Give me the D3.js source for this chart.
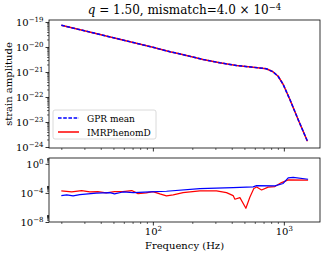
<!DOCTYPE html>
<html>
<head>
<meta charset="utf-8">
<script src="https://cdn.jsdelivr.net/npm/d3@7"></script>
<style>
body { margin: 0; background: #fff; }
text { font-family: "DejaVu Serif", serif; fill: #000; }
</style>
</head>
<body>
<div id="chart"></div>
<script>
// top panel: frequency (Hz) and log10 strain amplitude
const ampFreq = [20, 30, 50, 100, 135, 156, 242, 324, 434, 582, 735, 826, 904, 989, 1112, 1285, 1514];
const ampGPR  = [-19.13, -19.35, -19.63, -20.01, -20.19, -20.26, -20.5, -20.63, -20.74, -20.81, -20.87, -20.99, -21.17, -21.5, -22.1, -22.9, -23.77];
const ampIMR  = [-19.13, -19.35, -19.63, -20.01, -20.19, -20.26, -20.5, -20.63, -20.74, -20.81, -20.87, -20.99, -21.17, -21.5, -22.1, -22.9, -23.77];

// bottom panel: log10 error of each curve
const gprFreq = [20, 22, 24.6, 27.7, 37, 47, 51, 59, 71, 95, 127, 228, 410, 583, 619, 854, 988, 1079, 1178, 1531];
const gprErr  = [-4.37, -4.28, -4.41, -4.23, -4.04, -3.96, -4.14, -3.87, -3.96, -3.86, -3.77, -3.41, -3.27, -3.17, -3.0, -3.03, -2.7, -1.93, -1.87, -2.12];
const imrFreq = [20, 24, 28.6, 33, 38, 44, 51, 59, 69, 77, 89, 100, 113, 127, 143, 170, 228, 306, 365, 410, 423, 462, 513, 550, 590, 620, 676, 759, 854, 960, 1080, 1531];
const imrErr  = [-3.72, -3.86, -3.68, -3.86, -3.82, -4.0, -3.82, -3.82, -3.68, -4.1, -4.0, -3.82, -4.14, -4.41, -4.28, -3.96, -3.72, -3.72, -3.96, -4.37, -4.87, -4.65, -6.11, -4.59, -3.4, -3.2, -3.6, -3.21, -3.13, -2.58, -2.21, -2.25];

const xMajor = [100, 1000];
const ampMajor = [-19, -20, -21, -22, -23, -24];
const errMajor = [0, -4, -8];
const seriesNames = ["GPR mean", "IMRPhenomD"];

width = 328;
height = 258;
margin = ({left: 49, right: 8});
topPanel = ({y0: 20, y1: 148});
botPanel = ({y0: 158, y1: 222});

const blue = "#0000ff", red = "#ff0000";

const svg = d3.select("#chart").append("svg")
    .attr("width", width).attr("height", height);

const x = d3.scaleLog()
    .domain([Math.pow(10, 1.207), Math.pow(10, 3.276)])
    .range([margin.left, width - margin.right]);
const yAmp = d3.scaleLog()
    .domain([Math.pow(10, -24.04), Math.pow(10, -18.92)])
    .range([topPanel.y1, topPanel.y0]);
const yErr = d3.scaleLog()
    .domain([1e-8, Math.pow(10, 0.8)])
    .range([botPanel.y1, botPanel.y0]);

const minus = s => String(s).replace("-", "\u2212");

const supLabel = function(sel, exp) {
    sel.text(null);
    sel.append("tspan").text("10");
    sel.append("tspan").attr("dy", "-0.5em").attr("font-size", "7px").text(minus(exp));
};

const minorX = [];
[10, 100].forEach(b => { for (let k = 2; k <= 9; k++) minorX.push(k * b); });
const minorAmp = [];
for (let n = -24; n <= -19; n++) for (let k = 2; k <= 9; k++) {
    const v = k * Math.pow(10, n);
    if (v < yAmp.domain()[1]) minorAmp.push(v);
}
const minorErr = [];
[-8, -4, 0].forEach(n => { for (let k = 2; k <= 9; k++) {
    const v = k * Math.pow(10, n);
    if (v < yErr.domain()[1]) minorErr.push(v);
}});

const styleAxis = g => {
    g.select(".domain").remove();
    g.selectAll("line").attr("stroke", "#000").attr("stroke-width", 0.8);
    g.selectAll("text").attr("font-size", 10).attr("fill", "#000");
};

const drawPanel = function(panel, y, yMajor, yMinor, showX) {
    // x ticks
    svg.append("g")
        .attr("transform", `translate(0,${panel.y1})`)
        .call(d3.axisBottom(x).tickValues(minorX).tickSize(2).tickFormat(""))
        .call(styleAxis)
        .call(g => g.selectAll("line").attr("stroke-width", 0.6));
    const xa = svg.append("g")
        .attr("transform", `translate(0,${panel.y1})`)
        .call(d3.axisBottom(x).tickValues(xMajor).tickSize(3.5).tickPadding(2))
        .call(styleAxis);
    if (showX) {
        xa.selectAll(".tick text").each(function(d) { supLabel(d3.select(this), Math.round(Math.log10(d))); });
    } else {
        xa.selectAll(".tick text").remove();
    }
    // y ticks
    svg.append("g")
        .attr("transform", `translate(${margin.left},0)`)
        .call(d3.axisLeft(y).tickValues(yMinor).tickSize(2).tickFormat(""))
        .call(styleAxis)
        .call(g => g.selectAll("line").attr("stroke-width", 0.6));
    svg.append("g")
        .attr("transform", `translate(${margin.left},0)`)
        .call(d3.axisLeft(y).tickValues(yMajor.map(e => Math.pow(10, e))).tickSize(3.5).tickPadding(2))
        .call(styleAxis)
        .call(g => g.selectAll(".tick text").each(function(d) {
            supLabel(d3.select(this), Math.round(Math.log10(d)));
        }));
    // frame
    svg.append("rect")
        .attr("x", margin.left).attr("y", panel.y0)
        .attr("width", width - margin.right - margin.left)
        .attr("height", panel.y1 - panel.y0)
        .attr("fill", "none").attr("stroke", "#000").attr("stroke-width", 0.8);
};

const clipPath = (id, panel) => svg.append("clipPath").attr("id", id)
    .append("rect").attr("x", margin.left).attr("y", panel.y0)
    .attr("width", width - margin.right - margin.left).attr("height", panel.y1 - panel.y0);
clipPath("clipTop", topPanel);
clipPath("clipBot", botPanel);

const drawLine = function(fs, vs, y, color, lw, dash, clip) {
    const line = d3.line()
        .x((d, i) => x(fs[i]))
        .y(d => y(Math.pow(10, d)));
    svg.append("path")
        .datum(vs)
        .attr("clip-path", `url(#${clip})`)
        .attr("fill", "none")
        .attr("stroke", color)
        .attr("stroke-width", lw)
        .attr("stroke-dasharray", dash)
        .attr("stroke-linejoin", "round")
        .attr("d", line);
};

// Top panel lines
drawLine(ampFreq, ampIMR, yAmp, red, 1.5, null, "clipTop");
drawLine(ampFreq, ampGPR, yAmp, blue, 1.5, "3.6,1.6", "clipTop");
drawPanel(topPanel, yAmp, ampMajor, minorAmp, false);

// Bottom panel lines
drawLine(imrFreq, imrErr, yErr, red, 1.2, null, "clipBot");
drawLine(gprFreq, gprErr, yErr, blue, 1.2, null, "clipBot");
drawPanel(botPanel, yErr, errMajor, minorErr, true);

// Legend
const legend = svg.append("g").attr("transform", "translate(53,110)");
legend.append("rect")
    .attr("width", 103).attr("height", 29).attr("rx", 2)
    .attr("fill", "#fff").attr("fill-opacity", 0.8)
    .attr("stroke", "#d0d0d0").attr("stroke-width", 0.8);
seriesNames.forEach((name, i) => {
    const yy = 8 + i * 14;
    legend.append("line")
        .attr("x1", 5).attr("x2", 26).attr("y1", yy).attr("y2", yy)
        .attr("stroke", i === 0 ? blue : red)
        .attr("stroke-width", 1.5)
        .attr("stroke-dasharray", i === 0 ? "3.6,1.6" : null);
    legend.append("text")
        .attr("x", 34).attr("y", yy + 3.5)
        .attr("font-size", 9)
        .text(name);
});

// Title
const title = svg.append("text")
    .attr("x", (margin.left + width - margin.right) / 2)
    .attr("y", 14)
    .attr("text-anchor", "middle")
    .attr("font-size", 12);
title.append("tspan").attr("font-style", "italic").text("q");
title.append("tspan").text(" = 1.50, mismatch=4.0 \u00d7 10");
title.append("tspan").attr("dy", "-0.5em").attr("font-size", "8.5px").text("\u22124");

// Axis labels
svg.append("text")
    .attr("x", (margin.left + width - margin.right) / 2)
    .attr("y", 249)
    .attr("text-anchor", "middle")
    .attr("font-size", 10)
    .text("Frequency (Hz)");
svg.append("text")
    .attr("transform", `translate(12,${(topPanel.y0 + topPanel.y1) / 2}) rotate(-90)`)
    .attr("text-anchor", "middle")
    .attr("font-size", 10)
    .text("strain amplitude");
</script>
</body>
</html>
